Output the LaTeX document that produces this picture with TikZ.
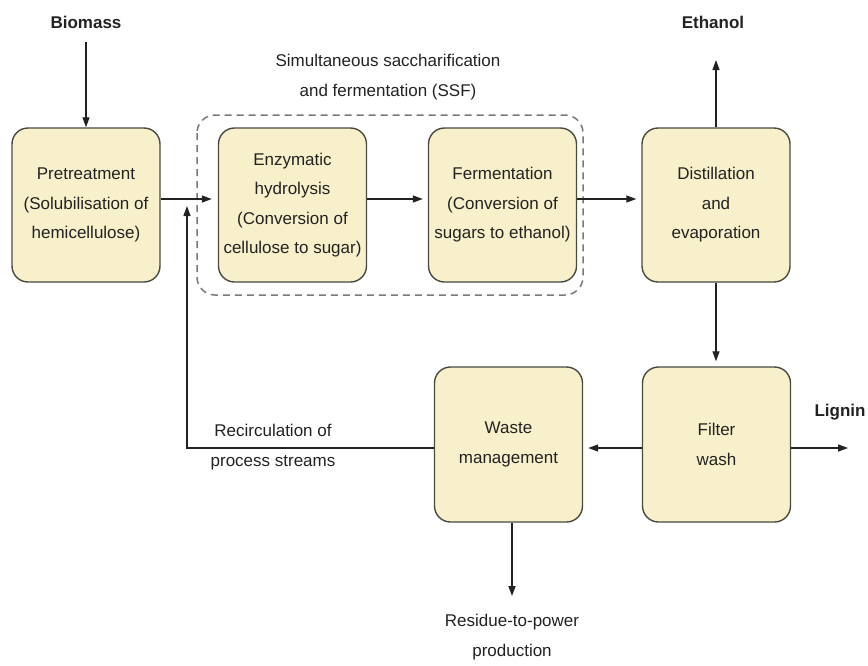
\documentclass[tikz,border=0pt]{standalone}
\usepackage{fontspec}
\setmainfont{Liberation Sans}
\usetikzlibrary{arrows.meta}
\definecolor{boxfill}{HTML}{F8F0CA}
\definecolor{boxline}{HTML}{4A4A40}
\definecolor{txt}{HTML}{222222}
\definecolor{dashc}{HTML}{7A7A7A}
\tikzset{
  procbox/.style={draw=boxline, fill=boxfill, line width=1.4pt, rounded corners=16pt,
    minimum width=148pt, minimum height=154pt, align=center, text=txt,
    font=\fontsize{17}{29.5}\selectfont, inner sep=0pt},
  lbl/.style={text=txt, align=center, font=\fontsize{17}{29.5}\selectfont, inner sep=0pt},
  blbl/.style={text=txt, align=center, font=\fontsize{17}{29.5}\selectfont\bfseries, inner sep=0pt},
  arr/.style={draw=txt, line width=1.3pt, -{Triangle[length=10pt,width=7pt]}},
  ssfbox/.style={draw=dashc, line width=1.5pt, dash pattern=on 7pt off 5pt, rounded corners=18pt}
}
\begin{document}
\begin{tikzpicture}[x=1pt,y=-1pt]
\useasboundingbox (0,0) rectangle (868,665);
% SSF dashed group
\draw[ssfbox] (197,115) rectangle (583,295);
\node[lbl] (ssf) at (388,77) {Simultaneous saccharification\\and fermentation (SSF)};
% process boxes
\node[procbox] (pre) at (86,205) {Pretreatment\\(Solubilisation of\\hemicellulose)};
\node[procbox] (enz) at (292.5,205) {Enzymatic\\hydrolysis\\(Conversion of\\cellulose to sugar)};
\node[procbox] (fer) at (502.5,205) {Fermentation\\(Conversion of\\sugars to ethanol)};
\node[procbox] (dis) at (716,205) {Distillation\\and\\evaporation};
\node[procbox, minimum height=155pt] (wst) at (508.5,444.5) {Waste\\management};
\node[procbox, minimum height=155pt] (fil) at (716.5,444.5) {Filter\\wash};
% labels
\node[blbl] (bio) at (86,22) {Biomass};
\node[blbl] (eth) at (713,22) {Ethanol};
\node[blbl] (lig) at (840,412) {Lignin};
\node[lbl] (rec) at (273,447) {Recirculation of\\process streams};
\node[lbl] (res) at (512,637) {Residue-to-power\\production};
% helper coordinates
\coordinate (r1) at (0,199);
\coordinate (r2) at (0,448);
\coordinate (ethtip) at (716,60);
\coordinate (ligtip) at (848,448);
\coordinate (restip) at (512,596);
\coordinate (rcorner) at (187,448);
\coordinate (rtip) at (187,206);
% connectors
\draw[arr, shorten <=14pt] (bio.south) -- (pre.north);
\draw[arr, shorten >=6pt] (pre.east |- r1) -- (enz.west |- r1);
\draw[arr, shorten >=5pt] (enz.east |- r1) -- (fer.west |- r1);
\draw[arr, shorten >=5pt] (fer.east |- r1) -- (dis.west |- r1);
\draw[arr] (dis.north) -- (ethtip);
\draw[arr, shorten >=5pt] (dis.south) -- (fil.north -| dis.south);
\draw[arr, shorten >=5pt] (fil.west |- r2) -- (wst.east |- r2);
\draw[arr] (fil.east |- r2) -- (ligtip);
\draw[arr] (wst.south -| restip) -- (restip);
\draw[arr] (wst.west |- r2) -- (rcorner) -- (rtip);
\end{tikzpicture}
\end{document}
